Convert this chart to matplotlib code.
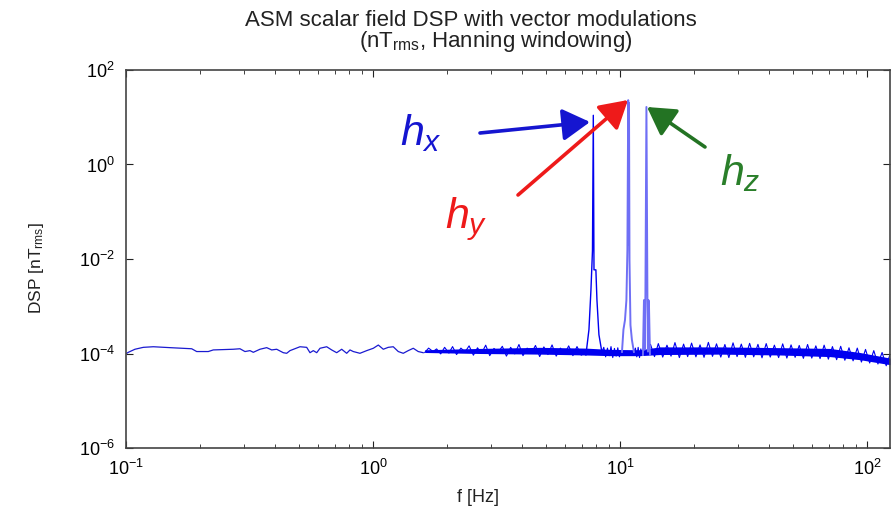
import matplotlib
matplotlib.use("Agg")
import matplotlib.pyplot as plt
from matplotlib.ticker import FixedLocator, LogLocator, LogFormatterSciNotation, NullLocator

plt.rcParams['font.family'] = ['Liberation Sans', 'DejaVu Sans']
plt.rcParams['mathtext.fontset'] = 'custom'
plt.rcParams['mathtext.rm'] = 'Liberation Sans'
plt.rcParams['mathtext.it'] = 'Liberation Sans:italic'

# ---------------------------------------------------------------- data
# low-frequency part of the spectrum, single smooth-ish trace
base_f = [0.1007, 0.1022, 0.1087, 0.1175, 0.1290, 0.1507, 0.1845, 0.1933, 0.2154, 0.2256,
          0.2719, 0.2894, 0.3032, 0.3177, 0.3277, 0.3487, 0.3712, 0.3890, 0.4075, 0.4333,
          0.4473, 0.4613, 0.5064, 0.5390, 0.5559, 0.5733, 0.5918, 0.6103, 0.6495, 0.6804,
          0.7129, 0.7470, 0.7826, 0.8071, 0.8323, 0.8857, 0.9430, 1.003, 1.051, 1.101,
          1.153, 1.208, 1.266, 1.326, 1.389, 1.456, 1.525, 1.597]
base_v = [1.01, 1.06, 1.23, 1.35, 1.39, 1.33, 1.26, 1.10, 1.10, 1.19,
          1.23, 1.26, 1.10, 1.15, 1.06, 1.23, 1.33, 1.19, 1.23, 1.04,
          1.01, 1.15, 1.39, 1.35, 1.04, 1.15, 1.04, 1.29, 1.39, 1.19,
          1.04, 1.23, 1.01, 1.19, 1.10, 1.01, 1.15, 1.29, 1.51, 1.23,
          1.35, 1.39, 1.10, 1.01, 1.15, 1.29, 1.10, 1.04]          # x 1e-4

# noisy trace between 1.6 Hz and the first line
noise_f = [1.62, 1.68, 1.75, 1.81, 1.88, 1.95, 2.03, 2.10, 2.18, 2.27,
           2.36, 2.45, 2.55, 2.65, 2.75, 2.86, 2.97, 3.09, 3.21, 3.34,
           3.47, 3.61, 3.75, 3.90, 4.05, 4.21, 4.38, 4.55, 4.73, 4.92,
           5.11, 5.31, 5.52, 5.74, 5.97, 6.20, 6.45, 6.70, 6.97, 7.24]
noise_v = [1.05, 1.30, 1.10, 1.25, 0.98, 1.35, 1.02, 1.40, 0.95, 1.30,
           1.08, 1.45, 0.92, 1.32, 1.00, 1.50, 0.90, 1.28, 1.05, 1.42,
           0.88, 1.35, 0.98, 1.55, 0.90, 1.30, 1.02, 1.48, 0.86, 1.38,
           0.95, 1.52, 0.88, 1.30, 0.98, 1.45, 0.90, 1.40, 0.92, 1.05]   # x 1e-4

# noise between the lines
gap1_f = [8.45, 8.6, 8.75, 8.9, 9.05, 9.2, 9.35, 9.5, 9.65, 9.8, 9.95, 10.1]
gap1_v = [1.07, 1.35, 0.85, 1.30, 0.90, 1.40, 0.82, 1.28, 0.88, 1.32, 0.85, 1.08]
gap2_f = [11.39, 11.55, 11.7, 11.85, 12.0, 12.15, 12.3]
gap2_v = [1.08, 1.30, 0.85, 1.35, 0.82, 1.25, 0.93]

# dense noise floor above the lines
hf_f = [13.3, 13.8, 14.3, 14.9, 15.5, 16.1, 16.7, 17.4, 18.1, 18.8,
        19.5, 20.3, 21.1, 21.9, 22.8, 23.7, 24.6, 25.6, 26.6, 27.6,
        28.7, 29.8, 31.0, 32.2, 33.5, 34.8, 36.2, 37.6, 39.1, 40.6,
        42.2, 43.9, 45.6, 47.4, 49.3, 51.2, 53.2, 55.3, 57.5, 59.8,
        62.1, 64.6, 67.1, 69.8, 72.5, 75.4, 78.3, 81.4, 84.6, 87.9,
        91.4, 95.0, 98.7, 102.6, 106.6, 110.8, 115.2, 119.7, 124]
hf_v = [1.55, 0.86, 1.62, 0.84, 1.50, 0.88, 1.70, 0.82, 1.58, 0.86,
        1.66, 0.85, 1.52, 0.83, 1.72, 0.87, 1.60, 0.84, 1.55, 0.82,
        1.68, 0.86, 1.58, 0.83, 1.64, 0.85, 1.56, 0.81, 1.62, 0.84,
        1.50, 0.82, 1.60, 0.80, 1.52, 0.83, 1.48, 0.79, 1.55, 0.80,
        1.45, 0.78, 1.50, 0.76, 1.40, 0.74, 1.42, 0.72, 1.32, 0.70,
        1.30, 0.66, 1.22, 0.63, 1.15, 0.60, 1.05, 0.55, 0.95]      # x 1e-4

# core of the dense noise band
band_f = [1.62, 2.71, 4.74, 7.28, 9.11, 12.05, 14.5, 25.4, 44.4, 70.8, 93.7, 124]
band_hi = [1.20, 1.28, 1.35, 1.30, 1.22, 1.20, 1.38, 1.38, 1.33, 1.28, 1.05, 0.80]   # x 1e-4
band_lo = [1.05, 1.00, 0.97, 0.93, 0.90, 0.90, 0.95, 0.97, 0.93, 0.86, 0.74, 0.58]

# modulation lines
hx_f = [7.28, 7.49, 7.63, 7.74, 7.80, 7.85, 7.99, 8.07, 8.22, 8.45]
hx_v = [9.3e-5, 3.2e-4, 2.2e-3, 1.5e-2, 11.0, 5.9e-3, 5.9e-3, 1.35e-3, 2.5e-4, 1.07e-4]
hy_f = [10.19, 10.33, 10.48, 10.62, 10.72, 10.80, 10.84, 10.88, 10.93, 11.03, 11.18, 11.39]
hy_v = [1.08e-4, 3.2e-4, 5.1e-4, 1.35e-3, 1.55e-2, 23.0, 2.0e-2, 20.0, 9.5e-3, 4.0e-4, 1.94e-4, 1.08e-4]
hz_f = [12.39, 12.51, 12.58, 12.68, 12.80, 12.92, 12.98, 13.04, 13.10, 13.23]
hz_v = [9.3e-5, 1.35e-3, 1.2e-4, 1.73e-3, 16.5, 1.35e-3, 1.1e-4, 1.35e-3, 1.2e-3, 9.3e-5]

LINE = '#0000f0'
LIGHT = '#6f6ff5'


def scaled(vals):
    return [v * 1e-4 for v in vals]


fig = plt.figure(figsize=(8.94, 5.15), dpi=100)
ax = fig.add_axes([126/894, 1 - 448/515, (890 - 126)/894, (448 - 70)/515])

ax.plot(base_f, scaled(base_v), color='#1a1ad0', lw=0.9)
ax.fill_between(band_f, scaled(band_lo), scaled(band_hi), color=LINE, lw=0)
ax.plot(noise_f, scaled(noise_v), color=LINE, lw=0.8)
ax.plot(gap1_f, scaled(gap1_v), color=LINE, lw=0.8)
ax.plot(gap2_f, scaled(gap2_v), color=LINE, lw=0.8)
ax.plot(hf_f, scaled(hf_v), color=LINE, lw=0.8)
ax.plot(hx_f, hx_v, color=LINE, lw=1.0)
ax.plot(hy_f, hy_v, color=LIGHT, lw=1.4)
ax.plot(hz_f, hz_v, color=LIGHT, lw=1.4)

ax.set_xscale('log')
ax.set_yscale('log')
ax.set_xlim(0.1, 124)
ax.set_ylim(1e-6, 1e2)
ax.yaxis.set_major_locator(FixedLocator([1e-6, 1e-4, 1e-2, 1, 1e2]))
ax.yaxis.set_minor_locator(NullLocator())
ax.yaxis.set_major_formatter(LogFormatterSciNotation())
ax.xaxis.set_major_locator(LogLocator(base=10))
ax.xaxis.set_minor_locator(LogLocator(base=10, subs=range(2, 10)))
ax.tick_params(which='both', direction='in', top=True, right=True, labelsize=13,
               color='#222222', pad=8)
ax.tick_params(which='major', length=5)
ax.tick_params(which='minor', length=3)
for s in ax.spines.values():
    s.set_color('#444444')
    s.set_linewidth(1.2)

fig.text(471/894, 1 - 20/515, 'ASM scalar field DSP with vector modulations',
         ha='center', va='center', fontsize=16, color='#222222')
fig.text(496/894, 1 - 41/515, r'(nT$_{\rm rms}$, Hanning windowing)',
         ha='center', va='center', fontsize=16, color='#222222')
fig.text(37/894, 1 - 268/515, r'DSP [nT$_{\rm rms}$]', rotation=90,
         ha='center', va='center', fontsize=12.5, color='#222222')
fig.text(478/894, 1 - 497/515, 'f [Hz]', ha='center', va='center',
         fontsize=13, color='#222222')

# peak labels and arrows
fig.text(400/894, 1 - 145/515, r'$h_x$', fontsize=31, color='#1515d0', ha='left', va='baseline')
fig.text(445/894, 1 - 228/515, r'$h_y$', fontsize=31, color='#ee1a1a', ha='left', va='baseline')
fig.text(720/894, 1 - 185/515, r'$h_z$', fontsize=31, color='#2a7f2a', ha='left', va='baseline')

arrows = [((480, 133), (590, 122), '#1515d0'),
          ((518, 195), (628, 100), '#ee1a1a'),
          ((705, 147), (647, 107), '#237323')]
for (x0, y0), (x1, y1), c in arrows:
    fig.add_artist(matplotlib.patches.FancyArrowPatch(
        (x0/894, 1 - y0/515), (x1/894, 1 - y1/515), transform=fig.transFigure,
        arrowstyle='-|>,head_length=1.2,head_width=0.7', mutation_scale=14,
        color=c, lw=2.6, shrinkA=0, shrinkB=0))

fig.savefig('out.png', dpi=100)
